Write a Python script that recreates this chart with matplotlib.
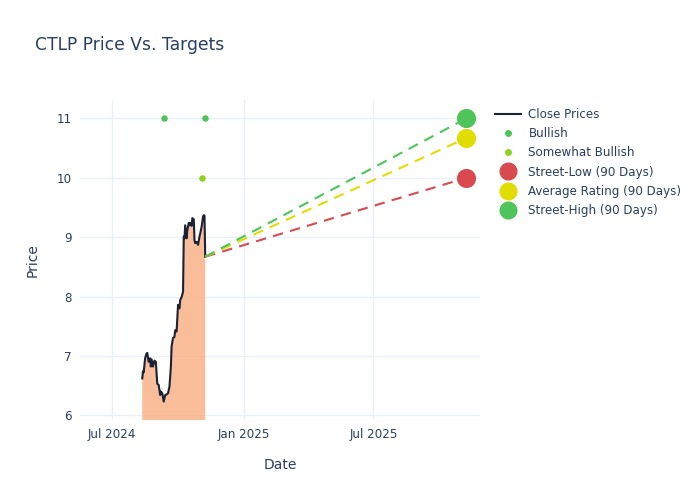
import matplotlib
matplotlib.use("Agg")
import matplotlib.pyplot as plt
import matplotlib.dates as mdates
from matplotlib.lines import Line2D
import pandas as pd

plt.rcParams['font.family'] = ['DejaVu Sans']

dates = ["2024-08-12", "2024-08-13", "2024-08-14", "2024-08-16", "2024-08-18", "2024-08-19",
         "2024-08-21", "2024-08-23", "2024-08-24", "2024-08-25", "2024-08-27", "2024-08-29",
         "2024-08-31", "2024-09-01", "2024-09-02", "2024-09-04", "2024-09-06", "2024-09-07",
         "2024-09-09", "2024-09-11", "2024-09-13", "2024-09-15", "2024-09-17", "2024-09-19",
         "2024-09-21", "2024-09-22", "2024-09-24", "2024-09-26", "2024-09-27", "2024-09-29",
         "2024-10-01", "2024-10-03", "2024-10-04", "2024-10-06", "2024-10-08", "2024-10-09",
         "2024-10-10", "2024-10-11", "2024-10-13", "2024-10-14", "2024-10-16", "2024-10-17",
         "2024-10-18", "2024-10-20", "2024-10-21", "2024-10-23", "2024-10-24", "2024-10-25",
         "2024-10-27", "2024-10-29", "2024-10-31", "2024-11-01", "2024-11-03", "2024-11-05",
         "2024-11-06", "2024-11-07", "2024-11-08"]
prices = [6.62, 6.74, 6.72, 6.96, 7.04, 7.05,
          6.90, 6.96, 6.82, 6.94, 6.82, 6.92,
          6.90, 6.71, 6.53, 6.51, 6.34, 6.40,
          6.37, 6.23, 6.34, 6.35, 6.37, 6.48,
          6.82, 7.16, 7.30, 7.32, 7.43, 7.41,
          7.86, 7.80, 7.94, 7.99, 8.08, 9.01,
          8.98, 9.20, 8.98, 9.12, 9.24, 9.20,
          9.24, 9.19, 9.32, 9.30, 8.95, 8.90,
          8.92, 8.87, 9.01, 9.06, 9.18, 9.35,
          9.37, 9.36, 8.67]

bullish_dates = ["2024-09-11", "2024-11-08"]
bullish_values = [11, 11]
somewhat_dates = ["2024-11-04"]
somewhat_values = [10]

target_date = "2025-11-08"
street_low = 10.0
avg_rating = 10.67
street_high = 11.0

text_color = "#2a3f5f"
grid_color = "#ebf0f8"

d = pd.to_datetime(dates)
fig = plt.figure(figsize=(7, 5), dpi=100)
ax = fig.add_axes([80/700, 1-420/500, 400/700, 320/500])

ax.fill_between(d, prices, 0, color="#f9b68f", alpha=0.9, linewidth=0, zorder=2)
ax.plot(d, prices, color="#1b2236", linewidth=1.5, zorder=3)

last_d = d[-1]
td = pd.Timestamp(target_date)
last_p = prices[-1]
for val, col in [(street_low, "#d84a50"), (avg_rating, "#e2dd00"), (street_high, "#4fc45a")]:
    ax.plot([last_d, td], [last_p, val], color=col, linewidth=1.5, dashes=(5, 3.5), zorder=3)

ax.scatter(pd.to_datetime(bullish_dates), bullish_values, s=22, color="#4fc45a", zorder=4, linewidths=0)
ax.scatter(pd.to_datetime(somewhat_dates), somewhat_values, s=22, color="#8fd11f", zorder=4, linewidths=0)
ax.scatter([td], [street_low], s=190, color="#d84a50", zorder=5, linewidths=0)
ax.scatter([td], [avg_rating], s=190, color="#e2dd00", zorder=5, linewidths=0)
ax.scatter([td], [street_high], s=190, color="#4fc45a", zorder=5, linewidths=0)

ax.set_xlim(pd.Timestamp("2024-05-17"), pd.Timestamp("2025-11-27"))
ax.set_ylim(5.92, 11.31)
ax.set_xticks(pd.to_datetime(["2024-07-01", "2025-01-01", "2025-07-01"]))
ax.set_xticklabels(["Jul 2024", "Jan 2025", "Jul 2025"])
ax.set_yticks([6, 7, 8, 9, 10, 11])
ax.grid(True, color=grid_color, linewidth=1)
ax.set_axisbelow(True)
for s in ax.spines.values():
    s.set_visible(False)
ax.tick_params(length=0, labelsize=8.6, colors=text_color, pad=6)
ax.set_xlabel("Date", fontsize=10, color=text_color, labelpad=12)
ax.set_ylabel("Price", fontsize=10, color=text_color, labelpad=12)

fig.text(35/700, 1-45/500, "CTLP Price Vs. Targets", fontsize=12.3, color=text_color, va="center")

handles = [
    Line2D([], [], color="#1b2236", linewidth=1.5),
    Line2D([], [], marker='o', linestyle='none', color="#4fc45a", markersize=4),
    Line2D([], [], marker='o', linestyle='none', color="#8fd11f", markersize=4),
    Line2D([], [], marker='o', linestyle='none', color="#d84a50", markersize=12),
    Line2D([], [], marker='o', linestyle='none', color="#e2dd00", markersize=12),
    Line2D([], [], marker='o', linestyle='none', color="#4fc45a", markersize=12),
]
labels = ["Close Prices", "Bullish", "Somewhat Bullish", "Street-Low (90 Days)",
          "Average Rating (90 Days)", "Street-High (90 Days)"]
leg = fig.legend(handles, labels, loc="upper left", bbox_to_anchor=(495/700, 1-108/500),
                 frameon=False, fontsize=8.6, labelspacing=0.52, handlelength=2.2,
                 handletextpad=0.6, borderpad=0, borderaxespad=0)
for t in leg.get_texts():
    t.set_color(text_color)

fig.savefig("out.png", dpi=100)
